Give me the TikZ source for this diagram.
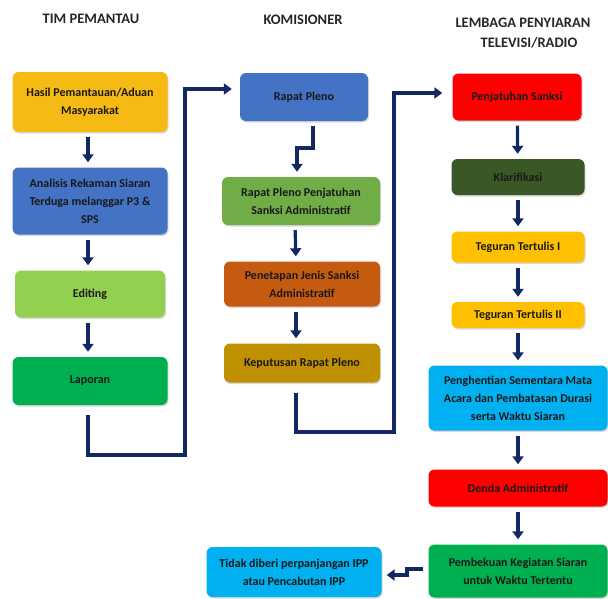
\documentclass[tikz,border=0pt]{standalone}
\usepackage{fontspec}
\setmainfont{Carlito}
\usetikzlibrary{arrows.meta,positioning,calc,shadows}
\definecolor{navy}{RGB}{18,40,100}
\definecolor{cGold}{RGB}{245,186,20}
\definecolor{cBlue}{RGB}{68,114,196}
\definecolor{cLime}{RGB}{146,208,80}
\definecolor{cGreen}{RGB}{0,176,80}
\definecolor{cOlive}{RGB}{112,173,71}
\definecolor{cRust}{RGB}{197,90,17}
\definecolor{cOchre}{RGB}{191,144,0}
\definecolor{cRed}{RGB}{255,0,0}
\definecolor{cForest}{RGB}{58,87,38}
\definecolor{cAmber}{RGB}{255,192,0}
\definecolor{cSky}{RGB}{0,176,240}

\begin{document}
\begin{tikzpicture}[
  x=1pt, y=-1pt,
  font=\fontsize{12}{18}\selectfont\bfseries,
  box/.style  = {rounded corners=6pt, align=center, inner sep=2pt,
                 text=black!90, drop shadow={opacity=0.3, shadow xshift=1pt, shadow yshift=-1.5pt}},
  head/.style = {font=\fontsize{14.5}{20}\selectfont\bfseries, align=center, text=black!85},
  arr/.style  = {-{Triangle[length=8pt,width=11pt]}, line width=3.2pt, navy,
                 shorten <=5pt, shorten >=5pt}
]
\useasboundingbox (0,0) rectangle (608,598);

% column headings
\node[head] (hTim) at (91,19) {TIM PEMANTAU};
\node[head] (hKom) at (303,20) {KOMISIONER};
\node[head] (hLem) at (523,33) {LEMBAGA PENYIARAN\\ \hspace*{12pt}TELEVISI/RADIO};

% tim pemantau
\node[box, fill=cGold, minimum width=155pt, minimum height=60pt] (hasil) at (90,102)
     {Hasil Pemantauan/Aduan\\ Masyarakat};
\node[box, fill=cBlue, minimum width=155pt, minimum height=67pt] (analisis) at (90,201)
     {Analisis Rekaman Siaran\\ Terduga melanggar P3 \&\\ SPS};
\node[box, fill=cLime, minimum width=150pt, minimum height=47pt] (editing) at (90,294)
     {Editing};
\node[box, fill=cGreen, minimum width=155pt, minimum height=48pt] (laporan) at (90,381)
     {Laporan};

% komisioner
\node[box, fill=cBlue, minimum width=128pt, minimum height=48pt] (rapat) at (304,97)
     {Rapat Pleno};
\node[box, fill=cOlive, minimum width=158pt, minimum height=48pt] (rpPenj) at (301,201)
     {Rapat Pleno Penjatuhan\\ Sanksi Administratif};
\node[box, fill=cRust, minimum width=156pt, minimum height=45pt] (tetap) at (302,284)
     {Penetapan Jenis Sanksi\\ Administratif};
\node[box, fill=cOchre, minimum width=156pt, minimum height=39pt] (putus) at (302,363)
     {Keputusan Rapat Pleno};

% lembaga penyiaran
\node[box, fill=cRed, minimum width=129pt, minimum height=47pt] (penj) at (517,97)
     {Penjatuhan Sanksi};
\node[box, fill=cForest, minimum width=133pt, minimum height=36pt] (klar) at (518,177)
     {Klarifikasi};
\node[box, fill=cAmber, minimum width=133pt, minimum height=31pt] (tegI) at (518,247)
     {Teguran Tertulis I};
\node[box, fill=cAmber, minimum width=133pt, minimum height=26pt] (tegII) at (518,315)
     {Teguran Tertulis II};
\node[box, fill=cSky, minimum width=179pt, minimum height=65pt] (henti) at (518,398)
     {Penghentian Sementara Mata\\ Acara dan Pembatasan Durasi\\ serta Waktu Siaran};
\node[box, fill=cRed, minimum width=179pt, minimum height=37pt] (denda) at (518,488)
     {Denda Administratif};
\node[box, fill=cGreen, minimum width=179pt, minimum height=53pt] (beku) at (518,571)
     {Pembekuan Kegiatan Siaran\\ untuk Waktu Tertentu};
\node[box, fill=cSky, minimum width=175pt, minimum height=50pt] (cabut) at (294,572)
     {Tidak diberi perpanjangan IPP\\ atau Pencabutan IPP};

\coordinate (loopA) at (185,455);
\coordinate (loopB) at (394,432);
\coordinate (kinkA) at (297,148);
\coordinate (kinkB) at (407,569);

\draw[arr] ([xshift=-2pt]hasil.south) -- ([xshift=-2pt]analisis.north);
\draw[arr] ([xshift=-2pt]analisis.south) -- ([xshift=-2pt]editing.north);
\draw[arr] ([xshift=-2pt]editing.south) -- ([xshift=-2pt]laporan.north);
\draw[arr, shorten <=10pt, shorten >=8pt] ([xshift=-2pt]laporan.south) |- (loopA) |- ([yshift=8pt]rapat.west);

\draw[arr] ([xshift=9pt]rapat.south) |- (kinkA) -- ([xshift=-4pt]rpPenj.north);
\draw[arr] ([xshift=-6pt]rpPenj.south) -- ([xshift=-6pt]tetap.north);
\draw[arr] ([xshift=-6pt]tetap.south) -- ([xshift=-6pt]putus.north);
\draw[arr, shorten <=10pt, shorten >=10pt] ([xshift=-6pt]putus.south) |- (loopB) |- ([yshift=4pt]penj.west);

\draw[arr] (penj) -- (klar);
\draw[arr] (klar) -- (tegI);
\draw[arr] (tegI) -- (tegII);
\draw[arr] (tegII) -- (henti);
\draw[arr] (henti) -- (denda);
\draw[arr] (denda) -- (beku);
\draw[arr] ([yshift=2pt]beku.west) -- (kinkB) |- ([yshift=-3pt]cabut.east);

\end{tikzpicture}
\end{document}
